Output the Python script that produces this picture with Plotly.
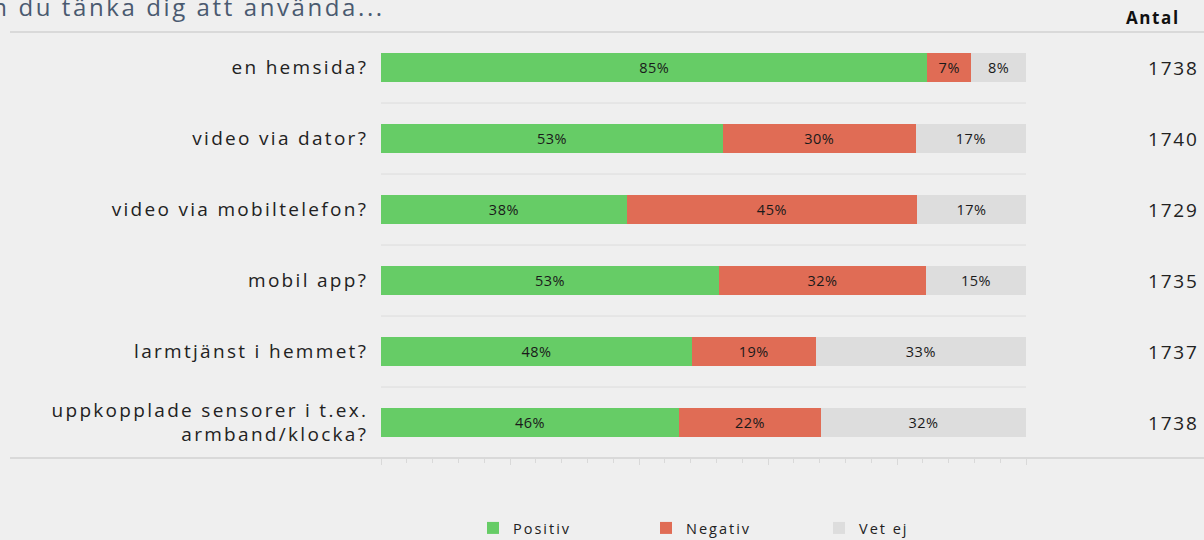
import plotly.graph_objects as go

categories = [
    "en hemsida?",
    "video via dator?",
    "video via mobiltelefon?",
    "mobil app?",
    "larmtjänst i hemmet?",
    "uppkopplade sensorer i t.ex.<br>armband/klocka?",
]
positiv = [84.7, 53.0, 38.1, 52.4, 48.2, 46.2]
negativ = [6.8, 29.9, 45.0, 32.1, 19.2, 22.0]
vet_ej = [8.5, 17.1, 16.9, 15.5, 32.6, 31.8]
positiv_lbl = ["85%", "53%", "38%", "53%", "48%", "46%"]
negativ_lbl = ["7%", "30%", "45%", "32%", "19%", "22%"]
vet_ej_lbl = ["8%", "17%", "17%", "15%", "33%", "32%"]
antal = [1738, 1740, 1729, 1735, 1737, 1738]
title_text = "Kan du tänka dig att använda..."
antal_title = "Antal"

W, H = 1204, 540
L, R, T, B = 381, 178, 32, 82
pw, ph = W - L - R, H - T - B


def px_x(p):
    return (p - L) / pw


def px_y(p):
    return (H - B - p) / ph


def spaced(s, ls):
    parts = s.split("<br>")
    return "<br>".join(f'<span style="letter-spacing:{ls}px">{p}</span>' for p in parts)


FONT = "Open Sans"
series = [
    ("Positiv", positiv, positiv_lbl, "#66cc66"),
    ("Negativ", negativ, negativ_lbl, "#e06c55"),
    ("Vet ej", vet_ej, vet_ej_lbl, "#dddddd"),
]

fig = go.Figure()
for name, vals, lbls, col in series:
    fig.add_trace(go.Bar(
        name=spaced(name, 2.0), x=vals, y=categories, orientation="h",
        marker=dict(color=col, line=dict(width=0)),
        text=[spaced(t, 0.5) for t in lbls], textposition="inside", insidetextanchor="middle",
        textfont=dict(family=FONT, size=14.5, color="#1a1a1a"),
        textangle=0, cliponaxis=False,
    ))

shapes = []
for k in range(1, len(categories)):
    shapes.append(dict(type="line", xref="x", yref="y", x0=0, x1=100,
                       y0=k - 0.5, y1=k - 0.5, line=dict(color="#dcdcdc", width=1)))
for yy in (1, 0):
    shapes.append(dict(type="line", xref="paper", yref="paper",
                       x0=px_x(10), x1=px_x(1204), y0=yy, y1=yy,
                       line=dict(color="#d9d9d9", width=2)))

annotations = [
    dict(text=spaced(title_text, 2.6), xref="paper", yref="paper", x=px_x(387), y=px_y(6),
         xanchor="right", yanchor="middle", showarrow=False,
         font=dict(family=FONT, size=24, color="#4a5a70")),
    dict(text="<b>" + spaced(antal_title, 1.6) + "</b>", xref="paper", yref="paper",
         x=px_x(1182), y=px_y(17), xanchor="right", yanchor="middle", showarrow=False,
         font=dict(family=FONT, size=17, color="#111111")),
]
for c, n in zip(categories, antal):
    annotations.append(dict(text=spaced(str(n), 1.8), xref="paper", yref="y", x=px_x(1201), y=c,
                            xanchor="right", yanchor="middle", showarrow=False,
                            font=dict(family=FONT, size=19, color="#222222")))

fig.update_layout(
    width=W, height=H,
    margin=dict(l=L, r=R, t=T, b=B, autoexpand=False),
    barmode="stack", bargap=0.59,
    paper_bgcolor="#efefef", plot_bgcolor="#efefef",
    font=dict(family=FONT, color="#222222"),
    xaxis=dict(range=[0, 100], showgrid=False, zeroline=False, showticklabels=False,
               ticks="outside", ticklen=6, tickcolor="#d9d9d9", tickwidth=1,
               tick0=0, dtick=20,
               minor=dict(ticks="outside", ticklen=4, tickcolor="#d9d9d9", dtick=4),
               showline=False, fixedrange=True),
    yaxis=dict(autorange="reversed", showgrid=False, zeroline=False,
               tickmode="array", tickvals=categories,
               ticktext=[spaced(c, 2.3) for c in categories],
               tickfont=dict(family=FONT, size=19, color="#222222"),
               ticks="outside", ticklen=8, tickcolor="rgba(0,0,0,0)",
               fixedrange=True),
    showlegend=True,
    legend=dict(orientation="h", x=px_x(473), y=px_y(528), xanchor="left", yanchor="middle",
                font=dict(family=FONT, size=14.5, color="#222222"),
                entrywidth=128, entrywidthmode="pixels", bgcolor="rgba(0,0,0,0)",
                traceorder="normal"),
    shapes=shapes, annotations=annotations,
)

fig.write_html("out.html", config={"displayModeBar": False},
               post_script="document.body.style.margin='0';document.body.style.background='#efefef';")
